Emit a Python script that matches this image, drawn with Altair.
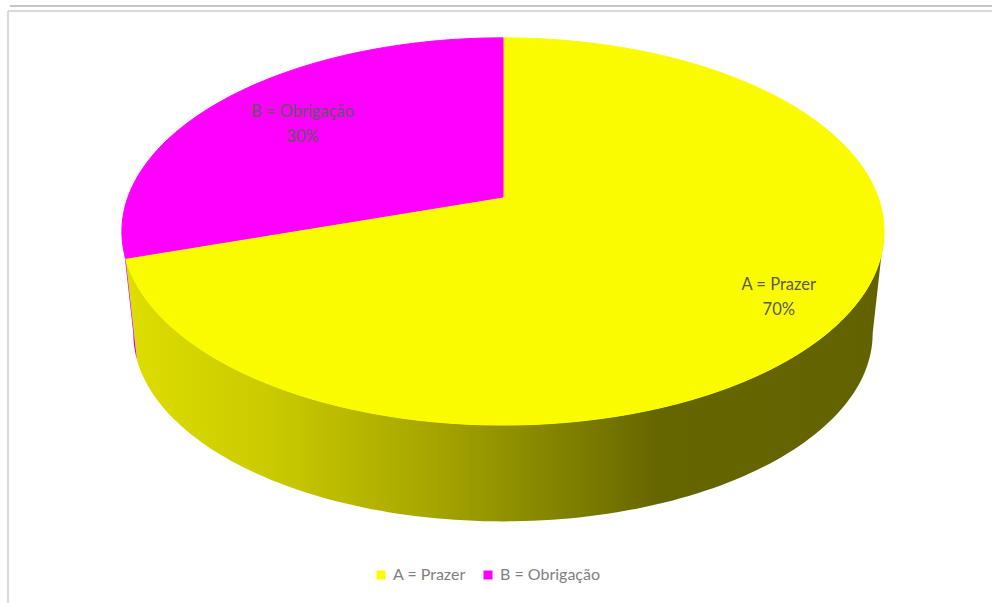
import altair as alt
import pandas as pd

# ---- data ----
categories = ["A = Prazer", "B = Obrigação"]
values = [70, 30]
colors = ["#fbfb00", "#ff00ff"]

# ---- geometry / style parameters ----
W, H = 992, 603          # canvas
CX, CY, R = 503, 197, 375  # pie centre on screen and pixels per radius unit
K = 0.178   # perspective strength
T = 0.5     # tilt (vertical squash)
S = 0.97    # bottom ring scale
D = 0.275   # thickness (radius units)
N = 120     # points per arc

rows = []
for i, (c, v) in enumerate(zip(categories, values)):
    for s in range(2 * N + 2):
        rows.append({"category": c, "value": v, "order": i, "step": s})
df = pd.DataFrame(rows)

xs = alt.Scale(domain=[-CX / R, (W - CX) / R], nice=False, zero=False)
ys = alt.Scale(domain=[-(H - CY) / R, CY / R], nice=False, zero=False)

base = (
    alt.Chart(df)
    .transform_joinaggregate(total="sum(value)", groupby=["step"])
    .transform_window(cum="sum(value)", sort=[alt.SortField("order")],
                      groupby=["step"], frame=[None, 0])
    .transform_calculate(
        a0="2 * PI * (datum.cum - datum.value) / datum.total",
        a1="2 * PI * datum.cum / datum.total",
    )
)

# ---- top faces ----
top = (
    base.transform_filter(f"datum.step <= {N + 2}")
    .transform_calculate(
        t=f"clamp((datum.step - 1) / {N}, 0, 1)",
        rr=f"(datum.step == 0 || datum.step == {N + 2}) ? 0 : 1",
    )
    .transform_calculate(th="datum.a0 + (datum.a1 - datum.a0) * datum.t")
    .transform_calculate(Z="datum.rr * cos(datum.th)", X="datum.rr * sin(datum.th)")
    .transform_calculate(
        px=f"datum.X / (1 + {K} * datum.Z)",
        py=f"{T} * datum.Z / (1 + {K} * datum.Z)",
    )
    .mark_line(strokeWidth=1, strokeJoin="round")
    .encode(
        x=alt.X("px:Q", scale=xs, axis=None),
        y=alt.Y("py:Q", scale=ys, axis=None),
        order=alt.Order("step:Q"),
        fill=alt.Fill(
            "category:N",
            scale=alt.Scale(domain=categories, range=colors),
            legend=alt.Legend(
                orient="none", legendX=373, legendY=567, direction="horizontal",
                title=None, symbolType="square", symbolSize=81,
                symbolStrokeWidth=0, labelFont="Lato", labelFontSize=16,
                labelColor="#7f7f7f", columnPadding=14, labelOffset=4, padding=0,
            ),
        ),
        stroke=alt.Stroke("category:N",
                          scale=alt.Scale(domain=categories, range=colors),
                          legend=None),
    )
)

# ---- sides ----
side = (
    base.transform_calculate(
        lo=f"max(datum.a0, PI / 2 + asin({K}))",
        hi=f"min(datum.a1, 3 * PI / 2 - asin({K}))",
    )
    .transform_filter("datum.hi > datum.lo")
    .transform_calculate(
        t=f"datum.step <= {N} ? datum.step / {N} : ({2 * N + 1} - datum.step) / {N}",
        sc=f"datum.step <= {N} ? 1 : {S}",
        dd=f"datum.step <= {N} ? 0 : {D}",
    )
    .transform_calculate(th="datum.lo + (datum.hi - datum.lo) * datum.t")
    .transform_calculate(Z="cos(datum.th)", X="sin(datum.th)")
    .transform_calculate(
        px=f"datum.sc * datum.X / (1 + {K} * datum.Z)",
        py=f"datum.sc * {T} * datum.Z / (1 + {K} * datum.Z) - datum.dd",
    )
)

grad_a = alt.Gradient(
    gradient="linear", x1=0, x2=1, y1=0, y2=0,
    stops=[
        alt.GradientStop(offset=0, color="#dede00"),
        alt.GradientStop(offset=0.2, color="#c9c900"),
        alt.GradientStop(offset=0.4, color="#a6a600"),
        alt.GradientStop(offset=0.55, color="#878700"),
        alt.GradientStop(offset=0.7, color="#666600"),
        alt.GradientStop(offset=1, color="#626200"),
    ],
)

side_a = (
    side.transform_filter("datum.order == 0")
    .mark_line(fill=grad_a, strokeOpacity=0)
    .encode(x=alt.X("px:Q", scale=xs, axis=None),
            y=alt.Y("py:Q", scale=ys, axis=None),
            order=alt.Order("step:Q"))
)
side_b = (
    side.transform_filter("datum.order == 1")
    .mark_line(fill="#d000d0", strokeOpacity=0)
    .encode(x=alt.X("px:Q", scale=xs, axis=None),
            y=alt.Y("py:Q", scale=ys, axis=None),
            order=alt.Order("step:Q"))
)

# ---- data labels ----
labels = (
    base.transform_filter("datum.step == 0")
    .transform_calculate(
        mid="(datum.a0 + datum.a1) / 2",
        lr="datum.order == 0 ? 0.83 : 0.71",
        pct="format(datum.value / datum.total, '.0%')",
    )
    .transform_calculate(Z="datum.lr * cos(datum.mid)", X="datum.lr * sin(datum.mid)")
    .transform_calculate(
        px=f"datum.X / (1 + {K} * datum.Z)",
        py=f"{T} * datum.Z / (1 + {K} * datum.Z)",
        txt="datum.category + '\\n' + datum.pct",
    )
    .mark_text(font="Lato", fontSize=16.5, color="#595959", lineHeight=25,
               baseline="middle", align="center", lineBreak="\n", dy=-12.5)
    .encode(x=alt.X("px:Q", scale=xs, axis=None),
            y=alt.Y("py:Q", scale=ys, axis=None),
            text="txt:N")
)

# ---- chart frame decoration ----
one = alt.Data(values=[{"k": 0}])
top_line = alt.Chart(one).mark_rule(color="#b3b3b3", strokeWidth=1.5).encode(
    x=alt.value(10), x2=alt.value(W), y=alt.value(6))
box_top = alt.Chart(one).mark_rule(color="#dadada", strokeWidth=2).encode(
    x=alt.value(8), x2=alt.value(W), y=alt.value(11))
box_left = alt.Chart(one).mark_rule(color="#dadada", strokeWidth=2).encode(
    x=alt.value(8), y=alt.value(11), y2=alt.value(H))

chart = (
    alt.layer(top_line, box_top, box_left, side_a, side_b, top, labels)
    .properties(width=W, height=H, padding=0, autosize="none", background="white")
    .configure_view(stroke=None)
)

chart.save("out.html", embed_options={"renderer": "svg", "actions": False})
